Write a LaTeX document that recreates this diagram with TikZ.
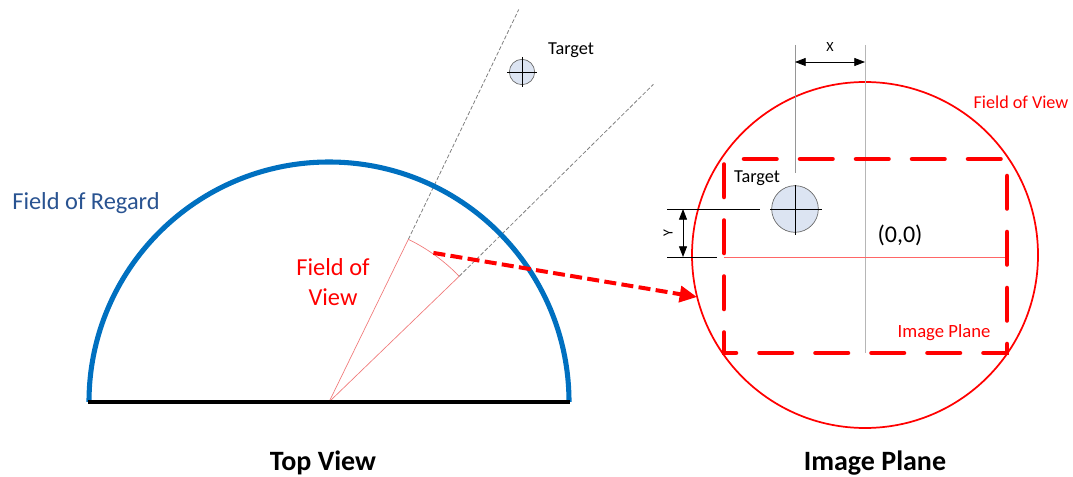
\documentclass[tikz,border=0pt]{standalone}
\usepackage{fontspec}
\setmainfont{Carlito}
\usetikzlibrary{arrows.meta,calc}
\definecolor{regblue}{RGB}{0,112,192}
\definecolor{regtext}{RGB}{41,83,145}
\definecolor{fovred}{RGB}{255,0,0}
\definecolor{pinkline}{RGB}{240,120,120}
\definecolor{tgtfill}{RGB}{220,228,242}
\definecolor{guide}{RGB}{150,150,150}
\tikzset{
  lbl/.style={inner sep=0pt, anchor=center},
  thinblack/.style={line width=0.6pt, black},
  guideline/.style={line width=0.5pt, guide},
  raydash/.style={line width=0.6pt, gray, dash pattern=on 3pt off 1.5pt},
  fovline/.style={line width=0.5pt, pinkline},
  dimarrow/.style={line width=0.6pt, black, {Triangle[length=8pt,width=6pt]}-{Triangle[length=8pt,width=6pt]}},
  tgt/.style={circle, draw=gray!80!black, fill=tgtfill, line width=0.5pt, inner sep=0pt},
}
\begin{document}
\begin{tikzpicture}[x=0.75pt,y=-0.75pt]
\path[use as bounding box] (0,0) rectangle (1073,477);

% ---------------- Top view ----------------
\coordinate (C) at (329,402);
\coordinate (F1) at ($(C)+(-64:181)$);
\coordinate (F2) at ($(C)+(-44:181)$);
\coordinate (R1) at ($(C)+(-64.2:436)$);
\coordinate (R2) at ($(C)+(-44.4:454)$);
\coordinate (Amid) at ($(C)+(-55:182)$);

\draw[raydash] (F1) -- (R1);
\draw[raydash] (F2) -- (R2);
\draw[fovline] (C) -- (F1);
\draw[fovline] (C) -- (F2);
\draw[fovline] (F1) arc[start angle=-64, end angle=-44, radius=181];

\draw[line width=3.8pt, regblue] (89,402) arc[start angle=180, end angle=360, radius=240];
\draw[line width=3.2pt, black] (88,402) -- (570,402);

\node[lbl, text=regtext, font=\fontsize{18.3}{22}\selectfont] (regard) at (86,203) {Field of Regard};
\node[lbl, text=fovred, align=center, font=\fontsize{18.3}{22.5}\selectfont] (fovleft) at (333,282) {Field of\\View};

% target (top view)
\node[tgt, minimum size=19pt] (tgt1) at (522,72) {};
\draw[thinblack] (507,72) -- (537,72);
\draw[thinblack] (522,57) -- (522,87);
\node[lbl, font=\fontsize{13.7}{16}\selectfont] (tgt1lbl) at (571,50) {Target};

\node[lbl, font=\bfseries\fontsize{21}{25}\selectfont] (topview) at (323,463) {Top View};

% ---------------- dashed connector ----------------
\coordinate (Aend) at (697,297);
\draw[line width=3pt, fovred, dash pattern=on 9pt off 4pt, -{Triangle[length=13pt,width=12pt]}] (Amid) -- (Aend);

% ---------------- Image plane ----------------
\draw[line width=1.3pt, fovred] (865,255) circle[radius=173];

\draw[line width=0.5pt, guide!70] (865,45) -- (865,353);
\draw[guideline] (795,45) -- (795,173);

\draw[line width=3.4pt, fovred, line cap=round, dash pattern=on 24.4pt off 17.6pt, dash phase=27pt]
  (724,159) -- (1007,159) -- (1007,353) -- (724,353) -- cycle;

\draw[line width=0.5pt, fovred!60] (724,257) -- (1005,257);

% target (image plane)
\node[tgt, minimum size=35pt] (tgt2) at (795,209) {};
\draw[thinblack] (770,209) -- (822,209);
\draw[thinblack] (795,185) -- (795,235);
\draw[thinblack] (667,209) -- (760,209);
\draw[thinblack] (667,257) -- (717,257);
\node[lbl, font=\fontsize{13.7}{16}\selectfont] (tgt2lbl) at (757,178) {Target};

% dimension arrows
\coordinate (Xa) at (795,62);
\coordinate (Xb) at (865,62);
\draw[dimarrow] (Xa) -- (Xb);
\node[lbl, font=\fontsize{10.5}{12}\selectfont] (xlbl) at (830,47) {X};
\coordinate (Ya) at (683,209);
\coordinate (Yb) at (683,257);
\draw[dimarrow] (Ya) -- (Yb);
\node[lbl, rotate=90, font=\fontsize{10.5}{12}\selectfont] (ylbl) at (668,233) {Y};

\node[lbl, font=\fontsize{18}{22}\selectfont] (origin) at (900,235) {(0,0)};
\node[lbl, text=fovred, font=\fontsize{13.6}{16}\selectfont] (fovright) at (1021,102) {Field of View};
\node[lbl, text=fovred, font=\fontsize{14}{16}\selectfont] (iplbl) at (944,333) {Image Plane};

\node[lbl, font=\bfseries\fontsize{21}{25}\selectfont] (ipview) at (875,463) {Image Plane};
\end{tikzpicture}
\end{document}
